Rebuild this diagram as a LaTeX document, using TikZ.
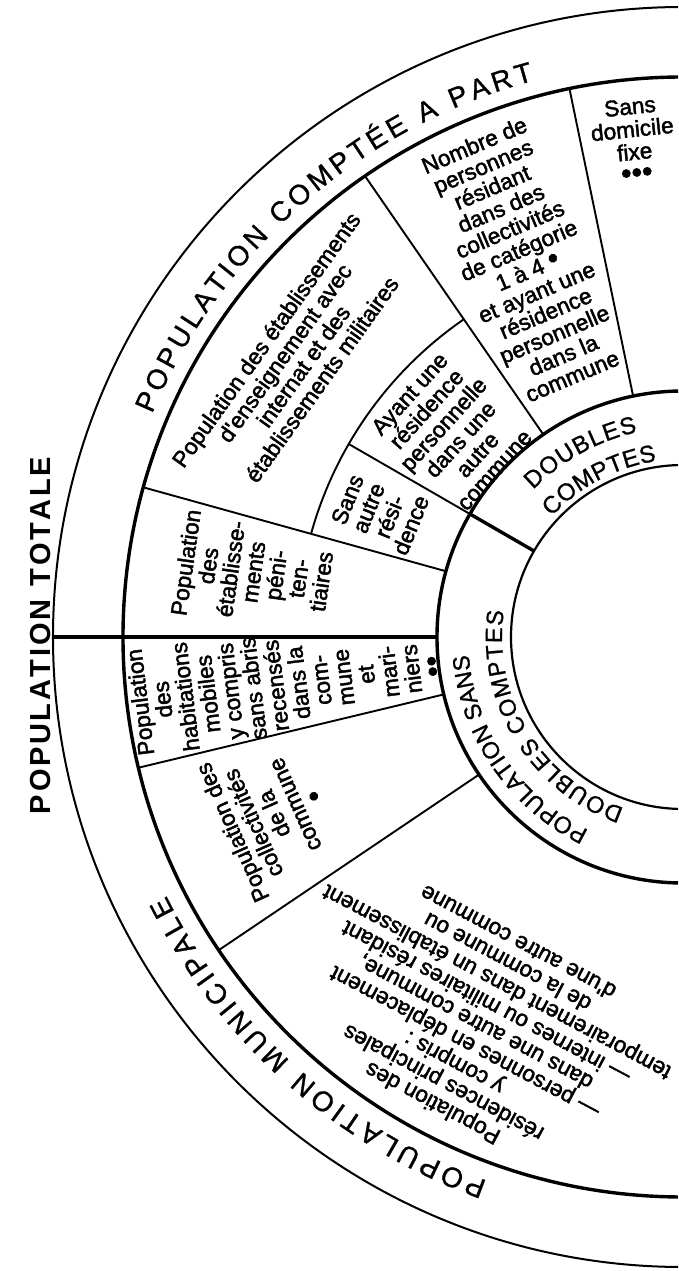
\documentclass[tikz,border=0pt]{standalone}
\usepackage{fontspec}
\setmainfont{Liberation Sans}
\newfontfamily\blkfont[FakeBold=2]{Liberation Sans}
\newfontfamily\ttlfont[FakeBold=1]{Liberation Sans}
\usetikzlibrary{decorations.text}
\begin{document}
\begin{tikzpicture}[x=1pt,y=1pt,
  thinline/.style={line width=1.9pt},
  thickline/.style={line width=3.4pt},
  blk/.style={align=center, inner sep=0pt, font=\blkfont\fontsize{22.6}{22.8}\selectfont},
  arctext/.style={decorate, decoration={text along path, text align=fit to path, text={#1}}}
]
\useasboundingbox (-683,-634) rectangle (-5,637);
\clip (-683,-634) rectangle (-5,637);

% rings
\draw[line width=2pt] (0,0) circle[radius=630pt];
\draw[thickline] (0,0) circle[radius=560pt];
\draw[thickline] (0,0) circle[radius=246pt];
\draw[line width=2.2pt] (0,0) circle[radius=172pt];
\draw[thinline] (164.5:386pt) arc[start angle=164.5, end angle=124.6, radius=386pt];

% radial dividers
\draw[thickline] (180:630pt) -- (180:246pt);
\draw[thinline] (164.5:560pt) -- (164.5:246pt);
\draw[thinline] (150:386pt) -- (150:246pt);
\draw[thickline] (150:246pt) -- (150:172pt);
\draw[thinline] (124.6:560pt) -- (124.6:246pt);
\draw[thinline] (101.7:560pt) -- (101.7:246pt);
\draw[thinline] (193.5:560pt) -- (193.5:246pt);
\draw[thinline] (214:560pt) -- (214:246pt);

% curved titles
\path[arctext={|\ttlfont\fontsize{28}{28}\selectfont|POPULATION COMPT{É}E A PART}]
  (157.2:576pt) arc[start angle=157.2, end angle=105.0, radius=576pt];
\path[arctext={|\ttlfont\fontsize{28}{28}\selectfont|POPULATION MUNICIPALE}]
  (250.2:578pt) arc[start angle=250.2, end angle=206.6, radius=578pt];
\path[arctext={|\bfseries\fontsize{29}{29}\selectfont|POPULATION TOTALE}]
  (-632,-177) -- (-632,180);
\path[arctext={|\ttlfont\fontsize{23.5}{23.5}\selectfont|POPULATION SANS}]
  (244:215pt) arc[start angle=244, end angle=184.7, radius=215pt];
\path[arctext={|\ttlfont\fontsize{23.5}{23.5}\selectfont|DOUBLES COMPTES}]
  (251:181pt) arc[start angle=251, end angle=171.7, radius=181pt];
\path[arctext={|\ttlfont\fontsize{24}{24}\selectfont|DOUBLES}]
  (135.5:210pt) arc[start angle=135.5, end angle=102.5, radius=210pt];
\path[arctext={|\ttlfont\fontsize{24}{24}\selectfont|COMPTES}]
  (137.5:178pt) arc[start angle=137.5, end angle=98.5, radius=178pt];

% sector labels
\node[blk, rotate=54.5] (ens) at (144.5:478pt)
  {Population des établissements\\d'enseignement avec\\internat et des\\établissements militaires};
\node[blk, rotate=23] (nombre) at (113:409pt)
  {Nombre de\\personnes\\résidant\\dans des\\collectivités\\de catégorie\\1 à 4 {\fontsize{30}{22.8}\selectfont •}\\et ayant une\\résidence\\personnelle\\dans la\\commune};
\node[blk, rotate=6] (sdf) at (95.7:499pt)
  {Sans\\domicile\\fixe\\{\fontsize{30}{22.8}\selectfont •••}};
\node[blk, rotate=48] (ayant) at (138.4:309pt)
  {Ayant une\\résidence\\personnelle\\dans une\\autre\\commune};
\node[blk, rotate=68] (sansautre) at (157.7:328.5pt)
  {Sans\\autre\\rési-\\dence};
\node[blk, rotate=82] (penit) at (171.4:434.6pt)
  {Population\\des\\établisse-\\ments\\péni-\\ten-\\tiaires};
\node[blk, rotate=97] (mobiles) at (186.8:399pt)
  {Population\\des\\habitations\\mobiles\\y compris\\sans abris\\recensés\\dans la\\com-\\mune\\et\\mari-\\niers\\{\fontsize{30}{22.8}\selectfont ••}};
\node[blk, rotate=114] (collect) at (203.4:446pt)
  {Population des\\collectivités\\de la\\commune\\{\fontsize{30}{22.8}\selectfont •}};
\node[blk, rotate=152] (princ) at (241.7:438.7pt)
  {Population des\\résidences principales\\y compris :\\— personnes en déplacement\\dans une autre commune,\\— internes ou militaires résidant\\temporairement dans un établissement\\de la commune ou\\d'une autre commune};
\end{tikzpicture}
\end{document}
